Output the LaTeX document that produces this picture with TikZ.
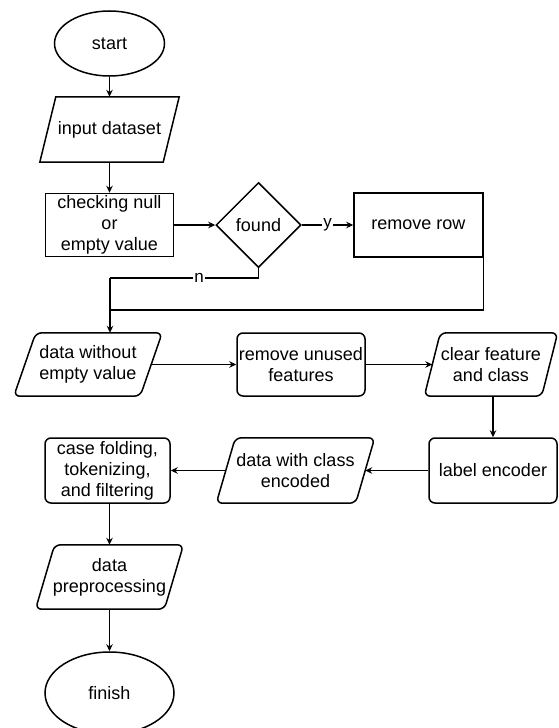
\documentclass[tikz,border=0pt]{standalone}
\usepackage{fontspec}
\setmainfont{Liberation Sans}
\usetikzlibrary{shapes.geometric, arrows.meta, calc}

\tikzset{
  every node/.style={font=\fontsize{18}{21}\selectfont},
  term/.style={ellipse, draw, line width=1.5pt, inner sep=0pt},
  proc/.style={rectangle, draw, line width=1.5pt, inner sep=0pt, align=center},
  rproc/.style={proc, rounded corners=6pt},
  iotext/.style={rectangle, inner sep=0pt, align=center},
  decision/.style={diamond, draw, line width=1.5pt, inner sep=0pt, minimum width=85pt, minimum height=85pt},
  conn/.style={line width=1.1pt, -{Stealth[length=7pt,width=6.5pt]}},
  plainline/.style={line width=1.1pt},
  edgelabel/.style={fill=white, inner sep=1pt, font=\fontsize{17}{20}\selectfont},
}

\newcommand\ioframe[3]{%
  \draw[line width=1.5pt, rounded corners=#3]
    ($(#1.south west)+(-#2/2,0)$) -- ($(#1.north west)+(#2/2,0)$) --
    ($(#1.north east)+(#2/2,0)$) -- ($(#1.south east)+(-#2/2,0)$) -- cycle;}

\begin{document}
\begin{tikzpicture}[x=1pt, y=-1pt]
\useasboundingbox (0,0) rectangle (558,728);
\clip (0,0) rectangle (558,728);

% nodes
\node[term, minimum width=110pt, minimum height=65pt] (start) at (109.5,43.5) {start};
\node[iotext, minimum width=123pt, minimum height=65pt] (input) at (109.5,129.5) {input dataset};
\ioframe{input}{16}{0pt}
\node[proc, minimum width=128pt, minimum height=63pt] (check) at (109.5,225) {checking null\\or\\empty value};
\node[decision] (found) at (258.5,225) {found};
\node[proc, minimum width=129pt, minimum height=64pt] (remove) at (418.5,225) {remove row};

\node[iotext, minimum width=126pt, minimum height=63pt] (dwo) at (88,364.5) {data without\\empty value};
\ioframe{dwo}{22}{6pt}
\node[rproc, minimum width=128pt, minimum height=63pt] (unused) at (301,364.5) {remove unused\\features};
\node[iotext, minimum width=117pt, minimum height=63pt] (clear) at (491,364.5) {clear feature\\and class};
\ioframe{clear}{16}{6pt}

\node[rproc, minimum width=128pt, minimum height=65pt] (label) at (493,470.5) {label encoder};
\node[iotext, minimum width=139pt, minimum height=65pt] (dwith) at (295.5,470.5) {data with class\\encoded};
\ioframe{dwith}{19}{6pt}
\node[rproc, minimum width=125pt, minimum height=65pt] (case) at (107.5,470.5) {case folding,\\tokenizing,\\and filtering};

\node[iotext, minimum width=128.5pt, minimum height=64pt] (prep) at (109.5,577) {data\\preprocessing};
\ioframe{prep}{19}{6pt}
\node[term, minimum width=129pt, minimum height=82pt] (finish) at (109.5,693) {finish};

\coordinate (nj) at (110,278);
\coordinate (rj) at (110,310);

% connectors
\draw[conn] (start) -- (input);
\draw[conn] (input) -- (check);
\draw[conn] (check) -- (found);
\draw[conn] (found) -- node[edgelabel]{y} (remove);
\draw[plainline] (found.south) |- node[edgelabel, pos=0.7]{n} (nj);
\draw[conn] (nj) -- (nj |- dwo.north);
\draw[plainline] (remove.south east) |- (rj);
\draw[conn] (dwo) -- (unused);
\draw[conn] (unused) -- (clear);
\draw[conn] (label.north |- clear.south) -- (label.north);
\draw[conn] (label) -- (dwith);
\draw[conn] (dwith) -- (case);
\draw[conn] (prep.north |- case.south) -- (prep.north);
\draw[conn] (prep) -- (finish);
\end{tikzpicture}
\end{document}
